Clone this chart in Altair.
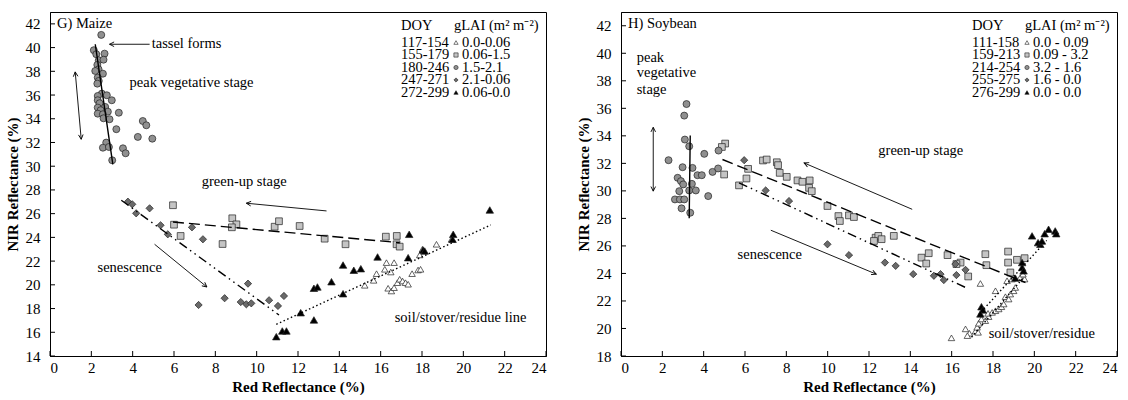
import math
import altair as alt
import pandas as pd

FONT = "Liberation Serif"
W, H = 496, 344

# ---------------- G) Maize ----------------
mz_tri_open_x = [15.23, 15.66, 15.80, 16.20, 16.49, 16.28, 16.65, 16.36, 16.52, 16.65, 16.81, 16.92, 17.06, 17.20,
                 17.33, 17.52, 17.81, 17.93, 17.89, 18.02, 18.70, 19.43]
mz_tri_open_y = [19.96, 20.38, 20.94, 21.31, 21.08, 21.87, 21.87, 19.71, 19.48, 19.76, 20.18, 20.47, 20.32, 20.18,
                 20.05, 20.94, 21.25, 21.31, 22.52, 23.00, 23.42, 23.84]
mz_sq_x = [5.95, 6.00, 6.32, 8.35, 8.82, 9.02, 8.80, 10.87, 11.08, 12.08, 13.29, 14.30, 16.25, 16.78, 16.77, 16.92]
mz_sq_y = [26.71, 25.07, 24.12, 23.44, 25.61, 25.10, 24.85, 24.90, 25.36, 24.96, 23.89, 23.42, 24.06, 24.12, 23.42, 23.22]
mz_ci_x = [2.48, 2.12, 2.24, 2.64, 2.36, 2.59, 2.29, 2.35, 2.19, 2.56, 2.31, 2.36, 2.29, 2.51, 2.31, 2.75, 2.99, 2.31,
           2.40, 2.31, 2.67, 2.45, 2.80, 2.31, 2.56, 3.33, 2.59, 2.88, 4.49, 4.66, 3.21, 4.25, 4.95, 2.72, 2.56, 2.85,
           3.53, 3.66, 3.01]
mz_ci_y = [41.07, 39.78, 39.44, 39.49, 38.93, 38.98, 38.54, 38.17, 38.03, 37.80, 37.47, 37.19, 36.96, 36.12, 35.92,
           35.98, 35.56, 35.56, 35.31, 34.94, 35.00, 34.72, 34.60, 34.43, 34.38, 34.51, 34.04, 33.96, 33.81, 33.45,
           33.12, 32.47, 32.32, 31.99, 31.56, 31.62, 31.51, 31.09, 30.50]
mz_di_x = [3.77, 3.98, 4.17, 4.82, 5.35, 5.70, 6.87, 7.40, 7.19, 8.45, 9.58, 9.23, 9.50, 9.74, 10.60, 11.03, 11.32]
mz_di_y = [27.01, 26.79, 26.03, 26.45, 25.02, 24.26, 24.85, 23.84, 18.30, 18.87, 20.10, 18.55, 18.36, 18.44, 18.70,
           18.22, 19.06]
mz_tri_fill_x = [10.95, 11.24, 11.44, 12.13, 12.77, 12.77, 12.94, 13.62, 14.18, 14.18, 14.70, 15.04, 15.85, 17.33,
                 17.38, 18.05, 18.13, 19.51, 19.48, 21.28]
mz_tri_fill_y = [15.63, 16.11, 16.11, 17.65, 17.04, 19.71, 19.82, 20.26, 19.25, 21.67, 21.23, 21.36, 22.35, 22.29,
                 24.26, 22.94, 22.85, 24.26, 23.84, 26.31]
mz_doy = ["117-154", "155-179", "180-246", "247-271", "272-299"]
mz_glai = ["0.0-0.06", "0.06-1.5", "1.5-2.1", "2.1-0.06", "0.06-0.0"]

# ---------------- H) Soybean ----------------
sb_tri_open_x = [15.99, 16.67, 16.86, 17.15, 17.23, 17.31, 17.44, 17.63, 17.79, 17.76, 17.96, 18.12, 18.28, 18.41,
                 18.52, 18.60, 18.76, 18.84, 19.00, 19.08, 18.68, 18.92, 18.12, 17.39, 19.32, 19.53, 19.45, 17.28, 16.76]
sb_tri_open_y = [19.32, 19.97, 19.65, 19.80, 20.09, 20.38, 20.69, 20.57, 20.86, 21.10, 21.17, 21.29, 21.42, 21.58,
                 21.78, 22.31, 22.14, 22.50, 22.74, 22.98, 23.47, 23.59, 22.74, 23.27, 23.71, 23.59, 23.95, 19.72, 19.48]
sb_sq_x = [5.04, 4.88, 4.99, 5.71, 6.07, 6.15, 6.87, 7.05, 7.54, 7.60, 7.68, 8.02, 8.54, 8.78, 9.13, 9.10, 9.23, 9.99,
           10.52, 10.59, 11.03, 11.27, 12.32, 12.45, 12.24, 12.61, 13.20, 14.54, 14.89, 14.77, 15.80, 16.43, 16.23,
           16.80, 17.63, 17.68, 18.73, 18.73, 19.16, 19.53, 18.84]
sb_sq_y = [33.44, 33.19, 31.19, 30.40, 30.90, 31.60, 32.21, 32.28, 32.08, 31.87, 31.31, 31.02, 30.76, 30.66, 30.76,
           30.22, 29.98, 28.90, 28.17, 27.81, 28.22, 28.10, 26.60, 26.73, 26.36, 26.49, 26.73, 25.15, 25.47, 24.72,
           25.33, 24.79, 24.68, 23.78, 25.40, 24.60, 25.59, 24.79, 24.99, 25.11, 24.07]
sb_ci_x = [3.17, 3.06, 3.09, 3.30, 2.30, 4.03, 2.98, 3.46, 3.70, 3.91, 4.43, 4.70, 4.72, 2.74, 2.90, 3.01, 3.43, 2.82,
           3.30, 3.62, 2.61, 2.85, 3.06, 4.22, 2.93, 3.35]
sb_ci_y = [36.31, 35.47, 33.73, 33.24, 32.23, 32.69, 31.72, 31.67, 31.14, 31.14, 31.38, 31.63, 32.93, 30.95, 30.71,
           30.47, 30.51, 29.98, 30.03, 30.03, 29.38, 29.38, 29.38, 29.62, 28.73, 28.41]
sb_di_x = [5.96, 7.00, 8.13, 9.99, 11.03, 12.77, 13.29, 14.14, 15.14, 15.46, 16.18, 15.62, 16.23, 16.67]
sb_di_y = [32.23, 30.03, 29.26, 26.12, 25.33, 24.79, 24.55, 23.95, 23.83, 23.95, 24.68, 23.52, 23.88, 24.26]
sb_tri_fill_x = [17.44, 17.51, 17.39, 19.08, 19.41, 19.48, 19.41, 20.29, 19.89, 20.18, 20.37, 20.50, 20.69, 21.01, 21.06]
sb_tri_fill_y = [21.58, 21.35, 21.06, 23.66, 24.43, 24.19, 24.79, 26.12, 26.73, 26.24, 26.36, 26.89, 27.21, 27.09, 26.89]
sb_doy = ["111-158", "159-213", "214-254", "255-275", "276-299"]
sb_glai = ["0.0 - 0.09", "0.09 - 3.2", "3.2 - 1.6", "1.6 - 0.0", "0.0 - 0.0"]

# fitted lines (endpoints): style, x1, y1, x2, y2
mz_lines = [("solid", 2.19, 40.28, 3.04, 30.16), ("dash", 5.95, 25.30, 16.92, 23.55),
            ("dashdot", 3.45, 27.13, 11.08, 17.46), ("dot", 10.95, 16.67, 21.33, 25.05)]
sb_lines = [("solid", 3.35, 34.02, 3.30, 28.01), ("dash", 4.91, 32.28, 19.57, 23.34),
            ("dashdot", 5.71, 30.59, 16.67, 22.98), ("dot", 16.96, 19.36, 19.48, 23.71),
            ("dot", 17.30, 21.00, 20.60, 26.40)]
# arrows: x1, y1, x2, y2, double-headed
mz_arrows = [(4.82, 40.28, 2.88, 40.28, False), (1.22, 37.95, 1.51, 32.27, True),
             (13.38, 26.23, 9.50, 26.88, False), (5.06, 23.42, 7.59, 19.82, False)]
sb_arrows = [(1.56, 34.62, 1.56, 29.98, True), (14.09, 28.66, 8.86, 32.03, False),
             (7.25, 27.14, 12.35, 23.95, False)]
mz_notes = [("tassel forms", 4.92, 40.28), ("peak vegetative stage", 3.85, 37.02), ("green-up stage", 7.34, 28.67),
            ("senescence", 2.30, 21.42), ("soil/stover/residue line", 16.68, 17.20)]
sb_notes = [("peak", 0.76, 39.64), ("vegetative", 0.76, 38.55), ("stage", 0.76, 37.35),
            ("green-up stage", 12.45, 32.88), ("senescence", 5.64, 25.35), ("soil/stover/residue", 17.79, 19.61)]

GROUPS = ["g1", "g2", "g3", "g4", "g5"]
SHAPES = ["triangle-up", "square", "circle", "diamond", "triangle-up"]
FILLS = ["#ffffff", "#c4c4c4", "#909090", "#6a6a6a", "#000000"]
SIZES = [42, 56, 60, 30, 46]
DASHES = {"solid": [1, 0], "dash": [11, 5], "dashdot": [9, 4, 1.5, 4, 1.5, 4], "dot": [1.5, 2.5]}


def points_df(series):
    rows = []
    for g, (xs, ys) in zip(GROUPS, series):
        for x, y in zip(xs, ys):
            rows.append({"red": x, "nir": y, "grp": g})
    return pd.DataFrame(rows)


def panel(series, lines, arrows, notes, doy, glai, title, ymin):
    ymax = 43
    xs = alt.Scale(domain=[0, 24], nice=False, zero=False)
    ys = alt.Scale(domain=[ymin, ymax], nice=False, zero=False)
    sx = W / 24.0
    sy = H / float(ymax - ymin)

    def to_x(px):
        return px / sx

    def to_y(py):
        return ymax - py / sy

    xaxis = alt.Axis(values=list(range(0, 25, 2)), tickSize=0, labelPadding=4, titlePadding=4,
                     grid=False, labelFontSize=15, titleFontSize=15)
    yaxis = alt.Axis(values=list(range(ymin, 43, 2)), tickSize=0, labelPadding=10, titlePadding=5,
                     grid=False, labelFontSize=15, titleFontSize=15)

    def X(f="red"):
        return alt.X(f + ":Q", scale=xs, title="Red Reflectance (%)", axis=xaxis)

    def Y(f="nir"):
        return alt.Y(f + ":Q", scale=ys, title="NIR Reflectance (%)", axis=yaxis)

    pts = alt.Chart(points_df(series)).mark_point(filled=True, opacity=1, stroke="#222222", strokeWidth=0.7).encode(
        x=X(), y=Y(),
        shape=alt.Shape("grp:N", scale=alt.Scale(domain=GROUPS, range=SHAPES), legend=None),
        fill=alt.Fill("grp:N", scale=alt.Scale(domain=GROUPS, range=FILLS), legend=None),
        size=alt.Size("grp:N", scale=alt.Scale(domain=GROUPS, range=SIZES), legend=None),
    )

    lrows = []
    for i, (st, x1, y1, x2, y2) in enumerate(lines):
        lrows.append({"seg": i, "st": st, "red": x1, "nir": y1, "o": 0})
        lrows.append({"seg": i, "st": st, "red": x2, "nir": y2, "o": 1})
    fit = alt.Chart(pd.DataFrame(lrows)).mark_line(color="black", strokeWidth=1.4).encode(
        x=X(), y=Y(), detail="seg:N", order="o:Q",
        strokeDash=alt.StrokeDash("st:N", scale=alt.Scale(domain=list(DASHES.keys()), range=list(DASHES.values())),
                                  legend=None),
    )

    arows, hrows = [], []
    for i, (x1, y1, x2, y2, dbl) in enumerate(arrows):
        arows.append({"seg": i, "red": x1, "nir": y1, "o": 0})
        arows.append({"seg": i, "red": x2, "nir": y2, "o": 1})
        dxp, dyp = (x2 - x1) * sx, -(y2 - y1) * sy
        ang = math.degrees(math.atan2(dxp, -dyp)) % 360
        hrows.append({"red": x2, "nir": y2, "ang": ang})
        if dbl:
            hrows.append({"red": x1, "nir": y1, "ang": (ang + 180) % 360})
    arr = alt.Chart(pd.DataFrame(arows)).mark_line(color="black", strokeWidth=0.9).encode(
        x=X(), y=Y(), detail="seg:N", order="o:Q")
    heads = alt.Chart(pd.DataFrame(hrows)).mark_point(
        shape="M-0.55,1.1L0,0L0.55,1.1", filled=False, stroke="black", strokeWidth=0.9, size=70, opacity=1
    ).encode(x=X(), y=Y(), angle=alt.Angle("ang:Q", scale=None))

    # annotations, panel title and legend (legend laid out in pixels, converted to data space)
    lx_doy, lx_sym, lx_gl, ly0, ldy = 351, 406, 412, 30.5, 12.5
    trows = [{"t": t, "red": x, "nir": y} for t, x, y in notes]
    trows.append({"t": title, "red": to_x(7), "nir": to_y(12)})
    trows.append({"t": "DOY", "red": to_x(lx_doy), "nir": to_y(14)})
    trows.append({"t": "gLAI (m\u00b2 m\u207b\u00b2)", "red": to_x(lx_gl - 8), "nir": to_y(14)})
    sym_rows = []
    for i, (d, g, grp) in enumerate(zip(doy, glai, GROUPS)):
        py = ly0 + i * ldy
        trows.append({"t": d, "red": to_x(lx_doy), "nir": to_y(py)})
        trows.append({"t": g, "red": to_x(lx_gl), "nir": to_y(py)})
        sym_rows.append({"grp": grp, "red": to_x(lx_sym), "nir": to_y(py)})
    txt = alt.Chart(pd.DataFrame(trows)).mark_text(align="left", baseline="middle", fontSize=14.5, font=FONT,
                                                   color="black").encode(x=X(), y=Y(), text="t:N")
    leg_sym = alt.Chart(pd.DataFrame(sym_rows)).mark_point(filled=True, opacity=1, stroke="#222222",
                                                           strokeWidth=0.6, size=18).encode(
        x=X(), y=Y(),
        shape=alt.Shape("grp:N", scale=alt.Scale(domain=GROUPS, range=SHAPES), legend=None),
        fill=alt.Fill("grp:N", scale=alt.Scale(domain=GROUPS, range=FILLS), legend=None))

    # inside tick marks
    xt = alt.Chart(pd.DataFrame({"red": list(range(0, 25, 2))})).mark_rule(color="black", strokeWidth=1).encode(
        x=X(), y=alt.value(H), y2=alt.value(H - 5))
    yt = alt.Chart(pd.DataFrame({"nir": list(range(ymin, 43, 2))})).mark_rule(color="black", strokeWidth=1).encode(
        y=Y(), x=alt.value(0), x2=alt.value(5))

    return alt.layer(pts, fit, arr, heads, txt, leg_sym, xt, yt).properties(width=W, height=H)


left = panel([(mz_tri_open_x, mz_tri_open_y), (mz_sq_x, mz_sq_y), (mz_ci_x, mz_ci_y), (mz_di_x, mz_di_y),
              (mz_tri_fill_x, mz_tri_fill_y)], mz_lines, mz_arrows, mz_notes, mz_doy, mz_glai, "G) Maize", 14)
right = panel([(sb_tri_open_x, sb_tri_open_y), (sb_sq_x, sb_sq_y), (sb_ci_x, sb_ci_y), (sb_di_x, sb_di_y),
               (sb_tri_fill_x, sb_tri_fill_y)], sb_lines, sb_arrows, sb_notes, sb_doy, sb_glai, "H) Soybean", 18)

chart = alt.hconcat(left, right, spacing=28).properties(
    padding={"left": 4, "top": 11, "right": 0, "bottom": 0}, background="white"
).configure_view(stroke="black", strokeWidth=1).configure_axis(
    labelFont=FONT, titleFont=FONT, labelColor="black", titleColor="black", titleFontWeight="bold",
    domainColor="black", domainWidth=1, domain=True, labels=True
)

chart.save("out.html", embed_options={"renderer": "svg", "actions": False})
